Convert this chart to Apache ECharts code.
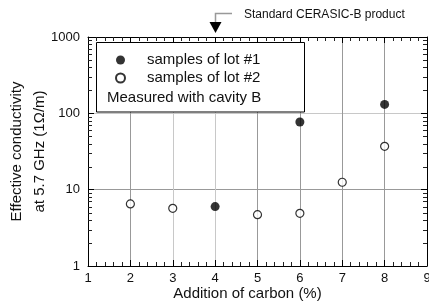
<!DOCTYPE html>
<html>
<head>
<meta charset="utf-8">
<script src="https://cdn.jsdelivr.net/npm/echarts@6/dist/echarts.min.js"></script>
<style>
  html, body { margin: 0; padding: 0; background: #fff; }
  #main { width: 429px; height: 306px; }
</style>
</head>
<body>
<div id="main"></div>
<script>
// 数据
var carbonLot1 = [4, 6, 8];
var condLot1 = [6.0, 77, 131];
var carbonLot2 = [2, 3, 5, 6, 7, 8];
var condLot2 = [6.5, 5.7, 4.7, 4.9, 12.5, 37];
var minorY = [2, 3, 4, 5, 6, 7, 8, 9, 20, 30, 40, 50, 60, 70, 80, 90, 200, 300, 400, 500, 600, 700, 800, 900];
var standardX = 4; // Standard CERASIC-B product

var font = 'Liberation Sans, Arial, sans-serif';
var myChart = echarts.init(document.getElementById('main'), null, { renderer: 'canvas' });

function pairs(xs, ys) {
  var out = [];
  for (var i = 0; i < xs.length; i++) out.push([xs[i], ys[i]]);
  return out;
}

var xAxisBase = {
  type: 'value', min: 1, max: 9, interval: 1,
  axisLine: { show: true, onZero: false, lineStyle: { color: '#000', width: 1 } },
  axisTick: { show: true, inside: true, length: 6, lineStyle: { color: '#000' } },
  minorTick: { show: true, splitNumber: 5, length: 4, lineStyle: { color: '#222', width: 1 } }
};
var yAxisBase = {
  type: 'log', min: 1, max: 1000, logBase: 10,
  axisLine: { show: true, onZero: false, lineStyle: { color: '#000', width: 1 } },
  axisTick: { show: true, inside: true, length: 6, lineStyle: { color: '#000' } },
  minorTick: { show: false }
};

var option = {
  animation: false,
  backgroundColor: '#fff',
  textStyle: { fontFamily: font },
  grid: { left: 88, right: 2, top: 37, bottom: 40, containLabel: false, outerBoundsMode: 'none' },
  legend: {
    orient: 'vertical',
    left: 110, top: 47,
    itemWidth: 9, itemHeight: 9, itemGap: 2,
    selectedMode: false,
    textStyle: { fontFamily: font, fontSize: 15, color: '#111', lineHeight: 16, padding: [0, 0, 0, 17] },
    data: ['samples of lot #1', 'samples of lot #2'],
    z: 6
  },
  xAxis: [
    Object.assign({}, xAxisBase, {
      position: 'bottom',
      name: 'Addition of carbon (%)',
      nameLocation: 'middle', nameGap: 20, nameMoveOverlap: false,
      nameTextStyle: { fontFamily: font, fontSize: 15, color: '#111', padding: [0, 20, 0, 0] },
      axisLabel: { fontFamily: font, fontSize: 13, color: '#111', margin: 6 },
      splitLine: { show: true, lineStyle: { width: 1, color: ['#000', '#999', '#c8c8c8', '#c8c8c8', '#999', '#999', '#999', '#999', '#000'] } }
    }),
    Object.assign({}, xAxisBase, {
      position: 'top',
      axisLabel: { show: false },
      splitLine: { show: false }
    })
  ],
  yAxis: [
    Object.assign({}, yAxisBase, {
      position: 'left',
      name: 'Effective conductivity\nat 5.7 GHz (1Ω/m)',
      nameLocation: 'middle', nameRotate: 90, nameGap: 37, nameMoveOverlap: false,
      nameTextStyle: { fontFamily: font, fontSize: 15, color: '#111', lineHeight: 23, align: 'center' },
      axisLabel: { fontFamily: font, fontSize: 13, color: '#111', margin: 8, formatter: function (v) { return String(v); } },
      splitLine: { show: true, lineStyle: { width: 1, color: ['#000', '#999', '#c8c8c8', '#000'] } }
    }),
    Object.assign({}, yAxisBase, {
      position: 'right',
      axisLabel: { show: false },
      splitLine: { show: false }
    })
  ],
  series: [
    {
      name: 'samples of lot #1',
      type: 'scatter',
      symbol: 'circle', symbolSize: 9,
      itemStyle: { color: '#000', borderColor: '#000', borderWidth: 0 },
      data: pairs(carbonLot1, condLot1),
      z: 5
    },
    {
      name: 'samples of lot #2',
      type: 'scatter',
      symbol: 'circle', symbolSize: 8,
      itemStyle: { color: '#fff', borderColor: '#000', borderWidth: 1.2 },
      data: pairs(carbonLot2, condLot2),
      z: 5
    },
    {
      // 对数轴的次刻度
      type: 'custom',
      silent: true,
      clip: false,
      data: minorY.map(function (v) { return [1, v]; }),
      encode: { x: 0, y: 1 },
      renderItem: function (params, api) {
        var v = api.value(1);
        var l = api.coord([1, v]);
        var r = api.coord([9, v]);
        var y = Math.round(l[1]) + 0.5;
        return {
          type: 'group',
          children: [
            { type: 'line', shape: { x1: l[0], y1: y, x2: l[0] + 4, y2: y }, style: { stroke: '#222', lineWidth: 1 } },
            { type: 'line', shape: { x1: r[0], y1: y, x2: r[0] - 4, y2: y }, style: { stroke: '#222', lineWidth: 1 } }
          ]
        };
      },
      z: 4
    }
  ]
};
myChart.setOption(option);

// 图例框和注释
var p = myChart.convertToPixel({ xAxisIndex: 0, yAxisIndex: 0 }, [standardX, 1000]);
var ax = Math.round(p[0]);
myChart.setOption({
  graphic: [
    {
      type: 'rect', z: 3, silent: true,
      shape: { x: 96.5, y: 42.5, width: 208, height: 69.5 },
      style: { fill: '#fff', stroke: '#000', lineWidth: 1 }
    },
    {
      type: 'text', z: 6, silent: true,
      left: 107, top: 90,
      style: { text: 'Measured with cavity B', font: '15px ' + font, fill: '#111' }
    },
    {
      type: 'polyline', z: 6, silent: true,
      shape: { points: [[ax + 0.5, 22], [ax + 0.5, 13.5], [ax + 17, 13.5]] },
      style: { stroke: '#999', lineWidth: 1.5, fill: null }
    },
    {
      type: 'polygon', z: 6, silent: true,
      shape: { points: [[ax - 5.5, 22], [ax + 6.5, 22], [ax + 0.5, 33]] },
      style: { fill: '#000' }
    },
    {
      type: 'text', z: 6, silent: true,
      x: ax + 29, y: 15,
      style: { text: 'Standard CERASIC-B product', font: '12px ' + font, fill: '#111', verticalAlign: 'middle' }
    }
  ]
});
</script>
</body>
</html>
